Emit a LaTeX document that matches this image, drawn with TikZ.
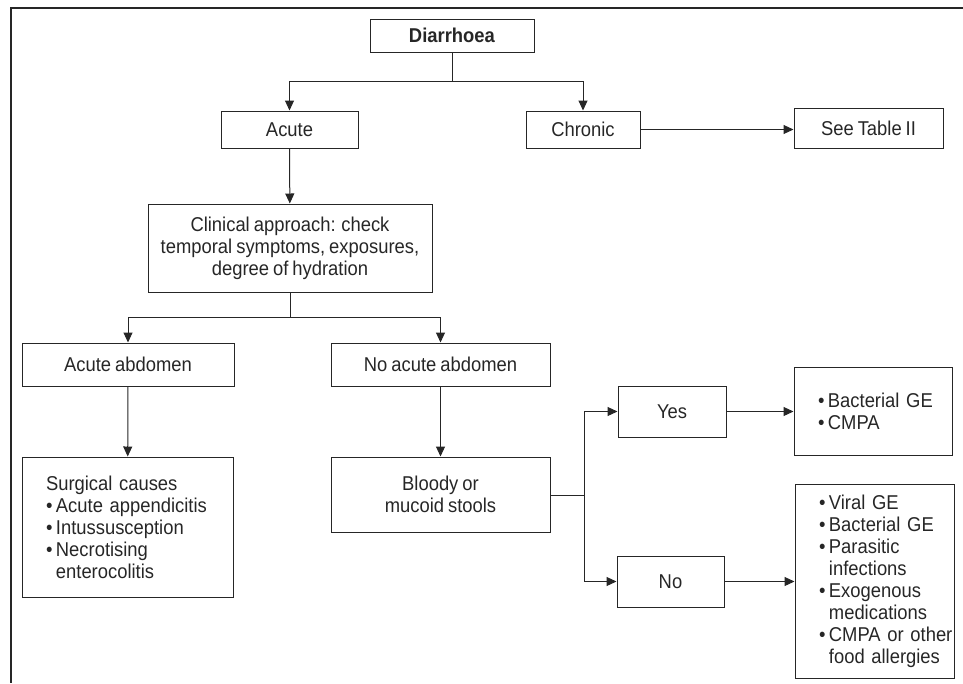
\documentclass[tikz,border=0pt]{standalone}
\usepackage{fontspec}
\setmainfont{Liberation Sans}[FakeStretch=0.92]
\usetikzlibrary{arrows.meta}

\newcommand{\nodefont}{\fontsize{20}{22}\selectfont\spaceskip=4pt plus 1pt minus 1pt\relax}
\tikzset{
  box/.style={draw=black!85, line width=1pt, inner sep=0pt, align=center},
  listbox/.style={box, align=left, inner xsep=24pt},
  arr/.style={draw=black!85, line width=1pt, ->},
}
% one bullet line, and a continuation line, neither of them broken
\newcommand{\li}[1]{\mbox{•\hspace{3.5pt}#1}}
\newcommand{\lc}[1]{\mbox{\phantom{•}\hspace{3.5pt}#1}}

\begin{document}
\begin{tikzpicture}[x=1pt, y=-1pt, >={Triangle[length=10pt,width=9pt]},
    every node/.style={font=\nodefont, text=black!85}]
        \useasboundingbox (0,0) rectangle (963,683);
        \draw[black!85, line width=1.5pt] (963,8) -- (11,8) -- (11,683);
        % top level
        \node[box, minimum width=164pt, minimum height=33pt] (dia) at (452,35.5) {\textbf{Diarrhoea}};
        \node[box, minimum width=137pt, minimum height=37pt] (acute) at (289.5,129.5) {Acute};
        \node[box, minimum width=114pt, minimum height=37pt] (chronic) at (583,129.5) {Chronic};
        \node[box, minimum width=149pt, minimum height=40pt] (table) at (868.5,128) {See Table II};
        \node[box, minimum width=284pt, minimum height=88pt] (clin) at (290,248)
            {Clinical approach: check\\temporal symptoms, exposures,\\degree of hydration};
        % second level
        \node[box, minimum width=212pt, minimum height=43pt] (aab) at (128,364.5) {Acute abdomen};
        \node[box, minimum width=219pt, minimum height=43pt] (naab) at (440.5,364.5) {No acute abdomen};
        \node[listbox, text width=163pt, minimum height=140pt] (surg) at (127.5,527)
            {\mbox{Surgical causes}\\\li{Acute appendicitis}\\\li{Intussusception}\\\li{Necrotising}\\\lc{enterocolitis}};
        \node[box, minimum width=219pt, minimum height=75pt] (blood) at (440.5,494.5) {Bloody or\\mucoid stools};
        \node[box, minimum width=108pt, minimum height=51pt] (yes) at (672,411.5) {Yes};
        \node[box, minimum width=107pt, minimum height=51pt] (no) at (670.5,581.5) {No};
        \node[listbox, text width=110pt, minimum height=88pt] (bact) at (873,411)
            {\li{Bacterial GE}\\\li{CMPA}};
        \node[listbox, text width=111pt, minimum height=194pt] (viral) at (874.5,581)
            {\li{Viral GE}\\\li{Bacterial GE}\\\li{Parasitic}\\\lc{infections}\\\li{Exogenous}\\\lc{medications}\\\li{CMPA or other}\\\lc{food allergies}};
        % connectors
        \coordinate (j1) at (452,81);
        \coordinate (j2) at (290,317);
        \coordinate (j3) at (584,495);
        \draw[arr, -] (dia) -- (j1);
        \draw[arr] (j1) -| (acute);
        \draw[arr] (j1) -| (chronic);
        \draw[arr] (chronic.east) -- (chronic.east -| table.west);
        \draw[arr] (acute) -- (clin);
        \draw[arr, -] (clin) -- (j2);
        \draw[arr] (j2) -| (aab);
        \draw[arr] (j2) -| (naab);
        \draw[arr] (aab) -- (surg);
        \draw[arr] (naab) -- (blood);
        \draw[arr, -] (blood.east |- j3) -- (j3);
        \draw[arr] (j3) |- (yes);
        \draw[arr] (j3) |- (no);
        \draw[arr] (yes.east) -- (yes.east -| bact.west);
        \draw[arr] (no.east) -- (no.east -| viral.west);
\end{tikzpicture}
\end{document}
